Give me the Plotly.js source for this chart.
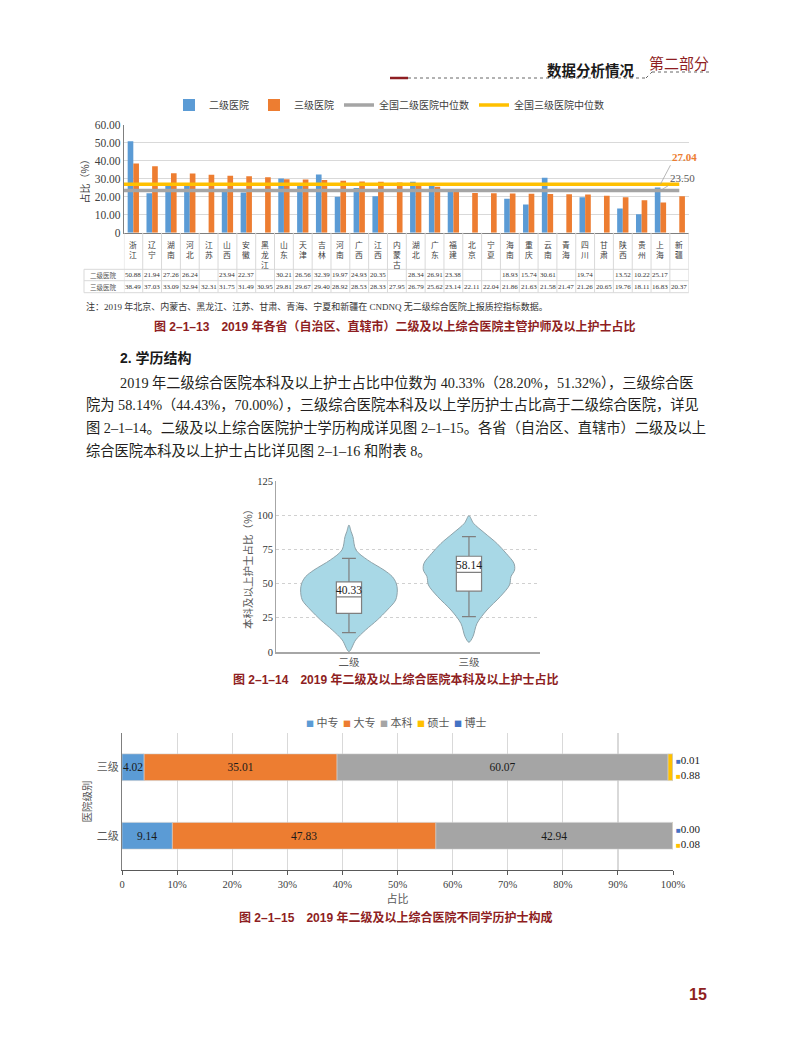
<!DOCTYPE html>
<html><head><meta charset="utf-8">
<script src="https://cdn.plot.ly/plotly-3.0.1.min.js"></script>
<style>html,body{margin:0;padding:0;background:#fff}</style>
</head><body><div id="chart" style="width:790px;height:1064px"></div>
<script>
// ---------- Figure 2-1-13 data ----------
const provinces = ['浙江','辽宁','湖南','河北','江苏','山西','安徽','黑龙江','山东','天津','吉林','河南','广西','江西','内蒙古','湖北','广东','福建','北京','宁夏','海南','重庆','云南','青海','四川','甘肃','陕西','贵州','上海','新疆'];
const level2Share = [50.88,21.94,27.26,26.24,null,23.94,22.37,null,30.21,26.56,32.39,19.97,24.93,20.35,null,28.34,26.91,23.38,null,null,18.93,15.74,30.61,null,19.74,null,13.52,10.22,25.17,null];
const level3Share = [38.49,37.03,33.09,32.94,32.31,31.75,31.49,30.95,29.81,29.67,29.40,28.92,28.53,28.33,27.95,26.79,25.62,23.14,22.11,22.04,21.86,21.63,21.58,21.47,21.26,20.65,19.76,18.11,16.83,20.37];
const nationalMedian2 = 23.50;
const nationalMedian3 = 27.04;
const seriesNames1 = ['二级医院','三级医院','全国二级医院中位数','全国三级医院中位数'];
const rowLabels1 = ['二级医院','三级医院'];
const yTicks1 = [0,10,20,30,40,50,60];
const yTickText1 = ['0','10.00','20.00','30.00','40.00','50.00','60.00'];

// ---------- Figure 2-1-14 data ----------
const violinCats = ['二级','三级'];
const boxQ1 = [28.20, 44.43];
const boxMedian = [40.33, 58.14];
const boxQ3 = [51.32, 70.00];
const boxLow = [14.1, 25.8];
const boxHigh = [68.5, 84.3];
// violin outline: value levels and half widths (category units)
const violinY2 = [92.8,88.0,84.3,74.6,67.3,59.9,55.1,50.2,45.3,38.0,30.7,23.4,16.1,8.8,0.3];
const violinW2 = [0,0.018,0.033,0.058,0.155,0.292,0.361,0.394,0.403,0.389,0.319,0.236,0.139,0.056,0];
const violinY3 = [99.6,94.1,86.8,79.4,72.1,64.8,59.9,55.1,49.0,40.4,30.7,20.9,11.2,7.1];
const violinW3 = [0,0.038,0.133,0.233,0.31,0.375,0.38,0.35,0.338,0.26,0.15,0.067,0.033,0];
const yTicks2 = [0,25,50,75,100,125];

// ---------- Figure 2-1-15 data ----------
const hospLevels = ['三级','二级'];
const eduLevels = ['中专','大专','本科','硕士','博士'];
const shareZhongzhuan = [4.02, 9.14];
const shareDazhuan = [35.01, 47.83];
const shareBenke = [60.07, 42.94];
const shareShuoshi = [0.88, 0.08];
const shareBoshi = [0.01, 0.00];
const xTicks3 = [0,10,20,30,40,50,60,70,80,90,100];
const xTickText3 = ['0','10%','20%','30%','40%','50%','60%','70%','80%','90%','100%'];

// ---------- helpers ----------
const W = 790, H = 1064;
const px = x => x / W;
const py = y => 1 - y / H;
const SERIF = 'Liberation Serif, Noto Sans CJK SC, serif';
const SANS = 'Liberation Sans, Noto Sans CJK SC, sans-serif';
const CJK = 'Noto Sans CJK SC, sans-serif';
const RED = '#8E1E22';
const BLUE = '#5B9BD5', ORANGE = '#ED7D31', GRAY = '#A5A5A5', GOLD = '#FFC000', DBLUE = '#4472C4';

const traces = [];
const idx = provinces.map((_, i) => i);

// chart 1
traces.push({type:'bar', x:idx, y:level2Share, name:seriesNames1[0], offset:-0.3, width:0.3,
  marker:{color:BLUE}, xaxis:'x', yaxis:'y', hoverinfo:'skip'});
traces.push({type:'bar', x:idx, y:level3Share, name:seriesNames1[1], offset:0, width:0.3,
  marker:{color:ORANGE}, xaxis:'x', yaxis:'y', hoverinfo:'skip'});
traces.push({type:'scatter', mode:'lines', x:[-0.5, provinces.length-1], y:[nationalMedian2, nationalMedian2],
  name:seriesNames1[2], line:{color:GRAY, width:3.5}, xaxis:'x', yaxis:'y', hoverinfo:'skip'});
traces.push({type:'scatter', mode:'lines', x:[-0.5, provinces.length-1], y:[nationalMedian3, nationalMedian3],
  name:seriesNames1[3], line:{color:GOLD, width:3.5}, xaxis:'x', yaxis:'y', hoverinfo:'skip'});

// chart 2 violins
function violinOutline(center, ys, ws) {
  const xs = [], yy = [];
  for (let i = 0; i < ys.length; i++) { xs.push(center + ws[i]); yy.push(ys[i]); }
  for (let i = ys.length - 2; i >= 0; i--) { xs.push(center - ws[i]); yy.push(ys[i]); }
  return {x:xs, y:yy};
}
const v2 = violinOutline(0, violinY2, violinW2);
const v3 = violinOutline(1, violinY3, violinW3);
[v2, v3].forEach((v, k) => traces.push({type:'scatter', mode:'lines', x:v.x, y:v.y, fill:'toself',
  fillcolor:'#A8D8E6', line:{color:'#8FA3AA', width:1, shape:'spline', smoothing:0.9},
  xaxis:'x2', yaxis:'y2', showlegend:false, hoverinfo:'skip', name:violinCats[k]}));
// box drawn on an overlaying axis pair so it sits above the violin fill
traces.push({type:'box', orientation:'v', x:[0,1], q1:boxQ1, median:boxMedian, q3:boxQ3,
  lowerfence:boxLow, upperfence:boxHigh,
  width:0.21, whiskerwidth:0.55, fillcolor:'#ffffff', line:{color:'#7F7F7F', width:1.2},
  boxpoints:false, xaxis:'x4', yaxis:'y4', showlegend:false, hoverinfo:'skip', name:'box'});

// chart 3 stacked bars
const eduSeries = [shareZhongzhuan, shareDazhuan, shareBenke, shareShuoshi, shareBoshi];
const eduColors = [BLUE, ORANGE, GRAY, GOLD, DBLUE];
const cum = hospLevels.map(() => 0);
eduSeries.forEach((vals, k) => {
  const base = cum.slice();
  vals.forEach((v, j) => cum[j] += v);
  traces.push({type:'bar', orientation:'h', y:hospLevels, x:vals, base:base, width:0.39,
    name:eduLevels[k], marker:{color:eduColors[k], line:{color:'#D0D0D0', width:0.6}},
    text: vals.map(v => v.toFixed(2)), textposition: k < 3 ? 'inside' : 'none', textangle:0,
    constraintext:'none', insidetextanchor:'middle', textfont:{family:SERIF, size:11.5, color:'#1a1a1a'},
    xaxis:'x3', yaxis:'y3', showlegend:false, hoverinfo:'skip'});
});

// ---------- annotations ----------
const ann = [];
const A = (o) => ann.push(Object.assign({showarrow:false, xref:'paper', yref:'paper', xanchor:'center', yanchor:'middle'}, o));

// header
A({x:px(591), y:py(69), text:'数据分析情况', font:{family:CJK, size:14.5, color:'#1a1a1a', weight:'bold'}});
A({x:px(679), y:py(62), text:'第二部分', font:{family:CJK, size:15, color:RED}});

// chart 1 category labels (vertical characters)
provinces.forEach((p, i) => A({x:i, xref:'x', y:py(236.5), yanchor:'top', text:[...p].join('<br>'),
  font:{family:CJK, size:7.8, color:'#404040'}}));
// table
A({x:px(103.5), y:py(275), text:rowLabels1[0], font:{family:CJK, size:6.5, color:'#595959'}});
A({x:px(103.5), y:py(286.7), text:rowLabels1[1], font:{family:CJK, size:6.5, color:'#595959'}});
level2Share.forEach((v, i) => { if (v != null) A({x:i, xref:'x', y:py(275), text:v.toFixed(2),
  font:{family:SERIF, size:7, color:'#333'}}); });
level3Share.forEach((v, i) => { if (v != null) A({x:i, xref:'x', y:py(286.7), text:v.toFixed(2),
  font:{family:SERIF, size:7, color:'#333'}}); });
// median callouts
const shIdx = provinces.indexOf('上海');
ann.push({x:shIdx, y:nationalMedian3, xref:'x', yref:'y', text:nationalMedian3.toFixed(2), showarrow:true,
  arrowhead:0, arrowwidth:0.8, arrowcolor:'#A6A6A6', ax:10, ay:-19, xanchor:'left', yanchor:'bottom',
  font:{family:SERIF, size:11, color:ORANGE, weight:'bold'}});
ann.push({x:shIdx, y:nationalMedian2, xref:'x', yref:'y', text:nationalMedian2.toFixed(2), showarrow:true,
  arrowhead:0, arrowwidth:0.8, arrowcolor:'#A6A6A6', ax:8, ay:-5, xanchor:'left', yanchor:'bottom',
  font:{family:SERIF, size:11, color:'#595959'}});
// note & caption 1
A({x:px(84), y:py(307), xanchor:'left', text:'注：2019 年北京、内蒙古、黑龙江、江苏、甘肃、青海、宁夏和新疆在 CNDNQ 无二级综合医院上报质控指标数据。',
  font:{family:SERIF, size:9, color:'#333'}});
A({x:px(394.5), y:py(326), text:'图 2–1–13　2019 年各省（自治区、直辖市）二级及以上综合医院主管护师及以上护士占比',
  font:{family:SANS, size:12, color:RED, weight:'bold'}});

// text body
A({x:px(118), y:py(358), xanchor:'left', text:'2. 学历结构', font:{family:SANS, size:14, color:'#1a1a1a', weight:'bold'}});
const bodyLines = [
  '2019 年二级综合医院本科及以上护士占比中位数为 40.33%（28.20%，51.32%），三级综合医',
  '院为 58.14%（44.43%，70.00%），三级综合医院本科及以上学历护士占比高于二级综合医院，详见',
  '图 2–1–14。二级及以上综合医院护士学历构成详见图 2–1–15。各省（自治区、直辖市）二级及以上',
  '综合医院本科及以上护士占比详见图 2–1–16 和附表 8。'];
const bodyY = [383, 405.5, 428, 450.5];
bodyLines.forEach((t, i) => A({x:px(i === 0 ? 118 : 84), y:py(bodyY[i]), xanchor:'left', text:t,
  font:{family:SERIF, size:14.25, color:'#231F20'}}));

// chart 2 median labels + caption
boxMedian.forEach((m, i) => ann.push({x:i, y:m, xref:'x2', yref:'y2', text:m.toFixed(2), showarrow:false,
  xanchor:'center', yanchor:'bottom', yshift:-1, font:{family:SERIF, size:11.5, color:'#1a1a1a'}}));
A({x:px(395), y:py(679), text:'图 2–1–14　2019 年二级及以上综合医院本科及以上护士占比',
  font:{family:SANS, size:12, color:RED, weight:'bold'}});

// chart 3 legend
eduLevels.forEach((e, k) => A({x:px(304 + k*37), y:py(721.5), xanchor:'left',
  text:'<span style="color:' + eduColors[k] + ';font-size:8px">■</span> ' + e,
  font:{family:CJK, size:11, color:'#595959'}}));
// chart 3 small segment labels
hospLevels.forEach((h, j) => {
  const total = eduSeries.reduce((s, arr) => s + arr[j], 0);
  ann.push({x:total, y:h, xref:'x3', yref:'y3', showarrow:false, xanchor:'left', yanchor:'middle', xshift:1, yshift:7,
    text:'<span style="color:' + DBLUE + ';font-size:8px">■</span>' + shareBoshi[j].toFixed(2),
    font:{family:SERIF, size:11, color:'#1a1a1a'}});
  ann.push({x:total, y:h, xref:'x3', yref:'y3', showarrow:false, xanchor:'left', yanchor:'middle', xshift:1, yshift:-8,
    text:'<span style="color:' + GOLD + ';font-size:8px">■</span>' + shareShuoshi[j].toFixed(2),
    font:{family:SERIF, size:11, color:'#1a1a1a'}});
});
A({x:px(395), y:py(917), text:'图 2–1–15　2019 年二级及以上综合医院不同学历护士构成',
  font:{family:SANS, size:12, color:RED, weight:'bold'}});

// page number
A({x:px(698), y:py(994), text:'15', font:{family:SANS, size:16, color:RED, weight:'bold'}});

// ---------- shapes ----------
const shapes = [];
const L = (o) => shapes.push(Object.assign({type:'line', xref:'paper', yref:'paper'}, o));
// header rule
L({x0:px(390), x1:px(408), y0:py(78), y1:py(78), line:{color:RED, width:2.5}});
L({x0:px(408), x1:px(646), y0:py(78), y1:py(78), line:{color:'#666', width:1, dash:'dot'}});
L({x0:px(646), x1:px(652), y0:py(78), y1:py(72), line:{color:'#666', width:1, dash:'dot'}});
L({x0:px(652), x1:px(712), y0:py(72), y1:py(72), line:{color:'#666', width:1, dash:'dot'}});
// chart 1 table grid
const gridC = '#D9D9D9';
for (let i = 0; i <= provinces.length; i++) {
  L({xref:'x', x0:i-0.5, x1:i-0.5, y0:py(232.7), y1:py(292.7), line:{color:gridC, width:1}});
}
[269.3, 280.7, 292.7].forEach(y => L({x0:px(84), x1:px(688.7), y0:py(y), y1:py(y), line:{color:gridC, width:1}}));
L({x0:px(84), x1:px(84), y0:py(269.3), y1:py(292.7), line:{color:gridC, width:1}});

const range2x = [-0.608, 1.592], range2y = [0, 125];
const layout = {
  width: W, height: H, autosize:false,
  margin:{l:0, r:0, t:0, b:0, pad:0},
  paper_bgcolor:'#ffffff', plot_bgcolor:'rgba(0,0,0,0)',
  barmode:'overlay', boxmode:'overlay',
  showlegend:true,
  legend:{orientation:'h', x:0.4924, xanchor:'center', y:py(105), yanchor:'middle',
    font:{family:CJK, size:10, color:'#404040'}, itemwidth:30, traceorder:'normal', bgcolor:'rgba(0,0,0,0)'},
  xaxis:{domain:[px(123.9), px(688.7)], range:[-0.5, 29.5], showticklabels:false, showgrid:false, zeroline:false,
    showline:true, linecolor:'#7F7F7F', linewidth:1, ticks:'', anchor:'y', fixedrange:true},
  yaxis:{domain:[py(232.7), py(125)], range:[0, 60], tickvals:yTicks1, ticktext:yTickText1, showgrid:true,
    gridcolor:'#D9D9D9', zeroline:false, showline:true, linecolor:'#7F7F7F', ticks:'',
    tickfont:{family:SERIF, size:11.5, color:'#404040'},
    title:{text:'占比（%）', font:{family:CJK, size:10, color:'#404040'}, standoff:3}, anchor:'x', fixedrange:true},
  xaxis2:{domain:[px(276), px(540)], range:range2x, tickvals:[0,1], ticktext:violinCats, showgrid:false,
    zeroline:false, showline:true, linecolor:'#A6A6A6', linewidth:1.5, ticks:'',
    tickfont:{family:CJK, size:10.5, color:'#595959'}, anchor:'y2', fixedrange:true},
  yaxis2:{domain:[py(652), py(481)], range:range2y, tickvals:yTicks2, showgrid:true, gridcolor:'#D0D0D0',
    griddash:'dot', zeroline:false, showline:true, linecolor:'#A6A6A6', ticks:'',
    tickfont:{family:SERIF, size:10.5, color:'#333'},
    title:{text:'本科及以上护士占比（%）', font:{family:CJK, size:10.5, color:'#595959'}, standoff:2}, anchor:'x2', fixedrange:true},
  xaxis4:{overlaying:'x2', range:range2x, visible:false, anchor:'y4', fixedrange:true},
  yaxis4:{overlaying:'y2', range:range2y, visible:false, anchor:'x4', fixedrange:true},
  xaxis3:{domain:[px(122), px(673)], range:[0, 100], tickvals:xTicks3, ticktext:xTickText3, showgrid:true,
    gridcolor:'#D9D9D9', gridwidth:1.2, zeroline:false, showline:true, linecolor:'#595959', linewidth:1.2,
    ticks:'outside', ticklen:4, tickcolor:'#595959', tickfont:{family:SERIF, size:10.5, color:'#404040'},
    title:{text:'占比', font:{family:CJK, size:11, color:'#595959'}, standoff:4}, anchor:'y3', fixedrange:true},
  yaxis3:{domain:[py(870), py(733)], type:'category', categoryorder:'array', categoryarray:hospLevels.slice().reverse(),
    range:[-0.5, 1.5], showline:true, linecolor:'#7F7F7F', ticks:'', showgrid:false, zeroline:false,
    tickfont:{family:CJK, size:11, color:'#595959'},
    title:{text:'医院级别', font:{family:CJK, size:10.5, color:'#595959'}, standoff:3}, anchor:'x3', fixedrange:true},
  annotations: ann,
  shapes: shapes
};

Plotly.newPlot('chart', traces, layout, {displayModeBar:false, staticPlot:true});
</script>
</body></html>
